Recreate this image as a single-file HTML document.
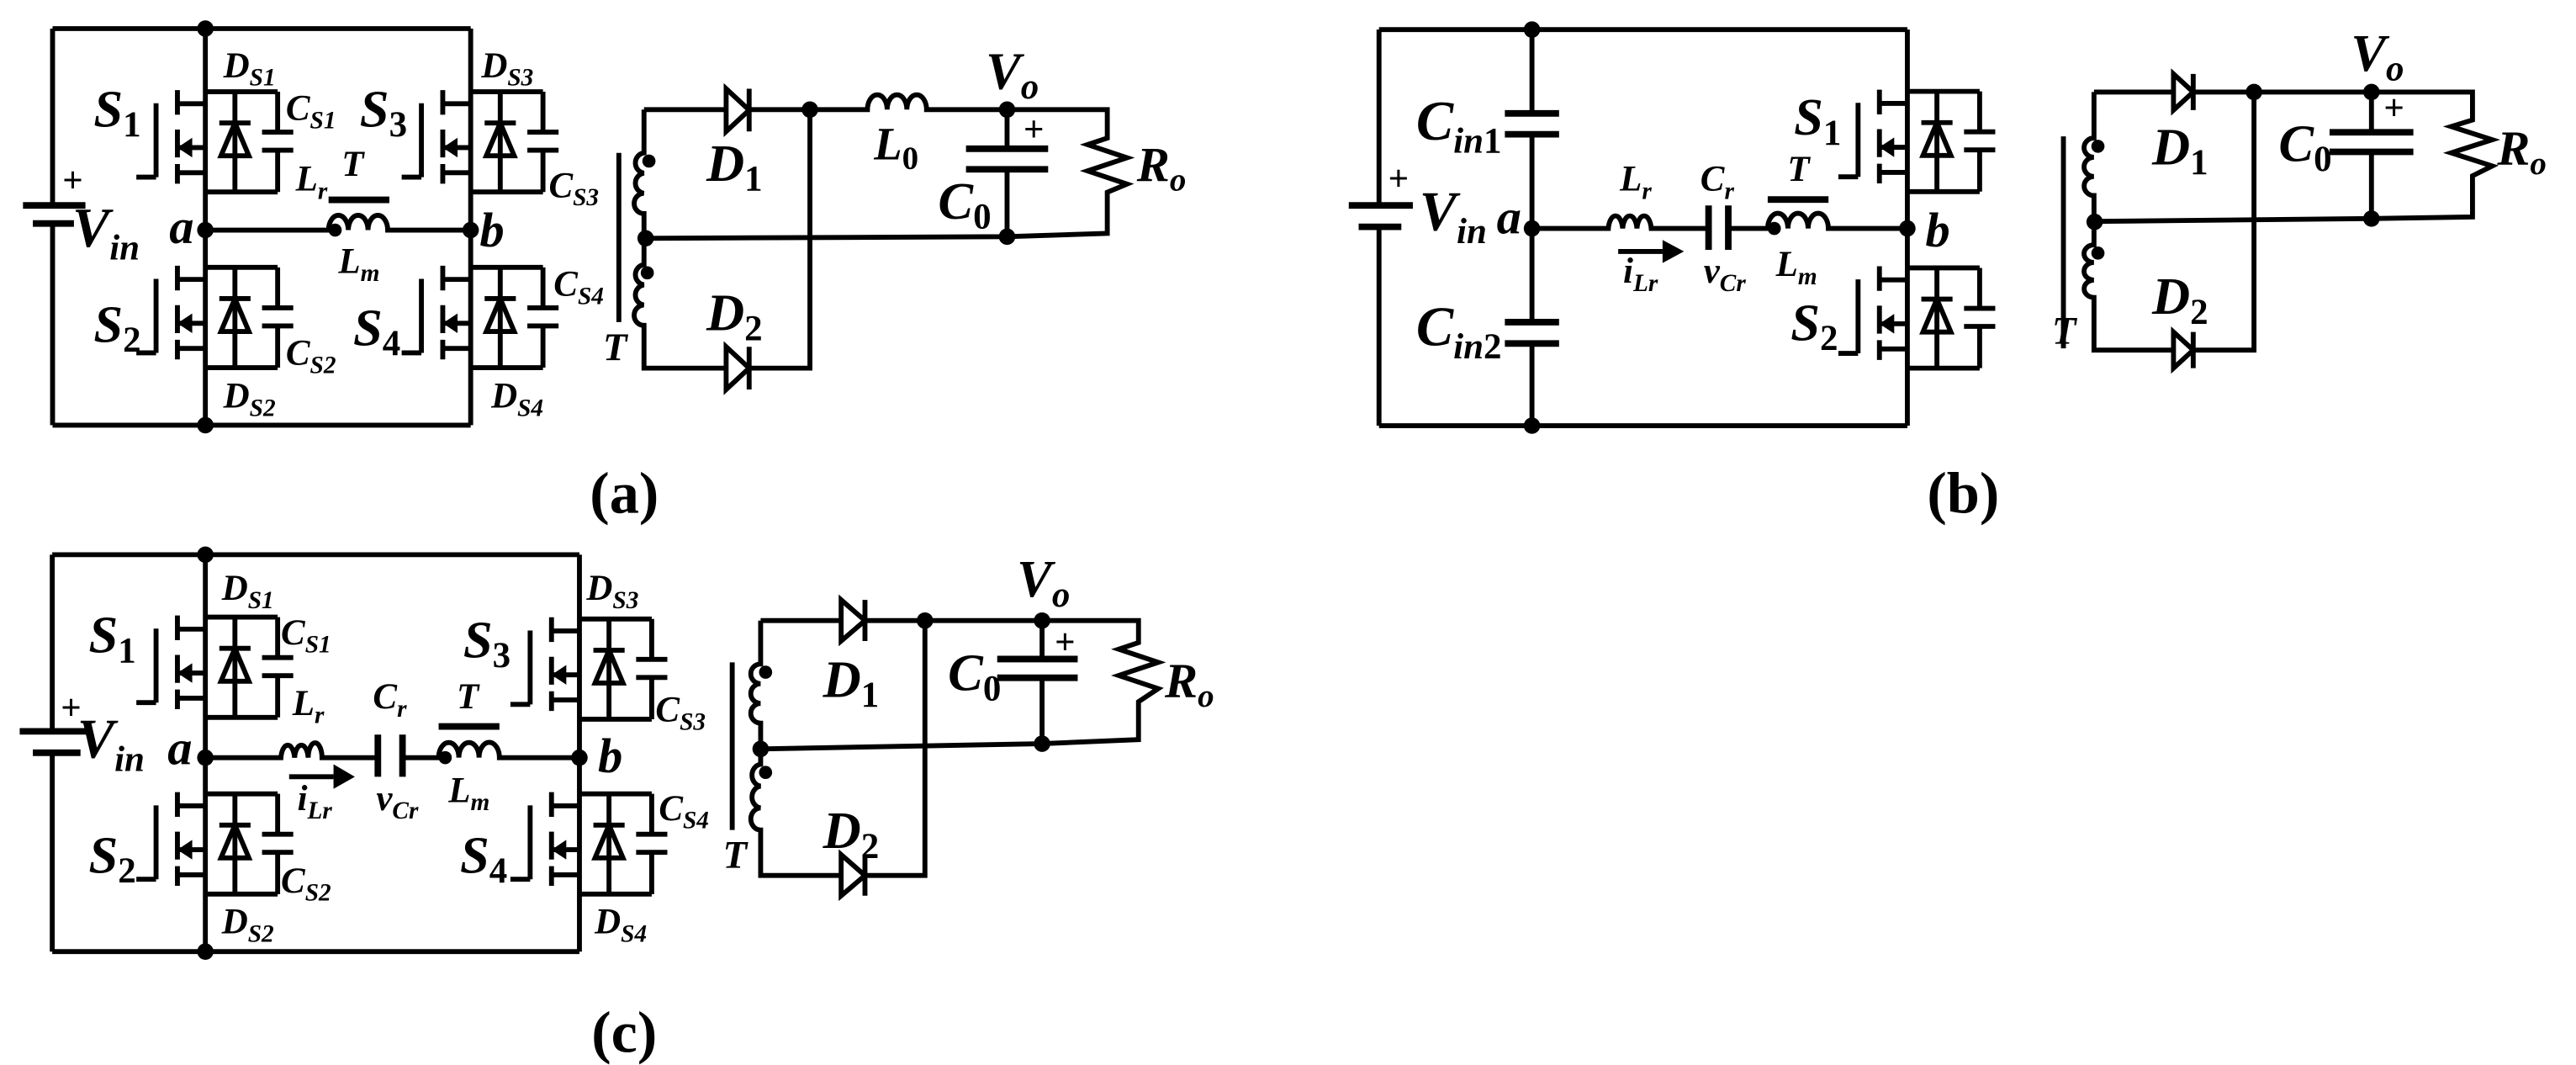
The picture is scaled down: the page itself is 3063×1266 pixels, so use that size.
<!DOCTYPE html>
<html><head><meta charset="utf-8"><style>
html,body{margin:0;padding:0;background:#fff;}
svg{display:block;}
text{font-family:"Liberation Serif",serif;font-weight:bold;font-style:italic;fill:#000;}
.n{font-style:normal;}
</style></head><body>
<svg width="3063" height="1266" viewBox="0 0 1568 648" preserveAspectRatio="none" xmlns="http://www.w3.org/2000/svg">
<defs>
<g id="sw" fill="none" stroke="#000" stroke-width="3">
 <path d="M0,0 H44 M0,61 H44 M18,0 V61 M44,0 V24.6 M44,35.6 V61 M34.5,24.6 H53.5 M34.5,35.6 H53.5 M-17,7.3 H0 M-17,34 H0 M-17,49.3 H0 M-17,-1 V14 M-17,23 V40 M-17,44 V56 M-30,7 V52 M-42,52 H-30 M8.5,19 H27.5"/>
 <polygon points="18,19 9.5,39 26.5,39"/>
 <polygon points="-17,34 -8,28 -8,40" fill="#000" stroke="none"/>
</g>
</defs>
<g fill="none" stroke="#000" stroke-width="3" stroke-linejoin="miter">
<!-- (a) primary -->
<path d="M32,17.4 H286.5 M32,258.7 H286.5 M32,17.4 V125 M32,136 V258.7 M125,17.4 V258.7 M286.5,17.4 V258.7"/>
<path d="M14,125 H52 M20,136 H45" stroke-width="4"/>
<path d="M125,140 H200 a6,9 0 0 1 12,0 a6,9 0 0 1 12,0 a6,9 0 0 1 12,0 H286.5"/>
<path d="M200,121.6 H237" stroke-width="4"/>
<use href="#sw" x="125" y="55.8"/><use href="#sw" x="125" y="162.7"/>
<use href="#sw" x="286.5" y="55.8"/><use href="#sw" x="286.5" y="162.7"/>
<!-- (a) secondary -->
<path d="M392,66.7 H442 M456,66.7 H528 a6,9 0 0 1 12,0 a6,9 0 0 1 12,0 a6,9 0 0 1 12,0 H674 V84 L662,88 L686,96 L662,104 L686,112 L674,117 V142 L613,144 L392,145"/>
<path d="M392,66.7 V93 a6,6.2 0 0 0 0,12.3 a6,6.2 0 0 0 0,12.3 a6,6.2 0 0 0 0,12.4 V161 a6,6.2 0 0 0 0,12.3 a6,6.2 0 0 0 0,12.3 a6,6.2 0 0 0 0,12.4 V224 H442 M456,224 H493 V66.7"/>
<polygon points="442,54 442,80 456,67"/><path d="M456,54 V80"/>
<polygon points="442,211 442,237 456,224"/><path d="M456,211 V237"/>
<path d="M376.7,93 V196"/>
<path d="M613,66.7 V90.5 M613,103 V144"/>
<path d="M588,90.5 H638 M588,103 H638" stroke-width="4"/>
<!-- (b) primary -->
<path d="M839.4,18 H1161 M839.4,259 H1161 M839.4,18 V125 M839.4,138 V259 M1161,18 V259 M932.5,18 V69 M932.5,81.7 V196 M932.5,209 V259"/>
<path d="M821,125 H860 M827,138 H853 M916,69 H949 M916,81.7 H949 M916,196 H949 M916,209 H949" stroke-width="4"/>
<path d="M932.5,139 H979 a4.4,9 0 0 1 8.7,0 a4.4,9 0 0 1 8.7,0 a4.4,9 0 0 1 8.7,0 H1040 M1052,139 H1076 a6,9 0 0 1 12.3,0 a6,9 0 0 1 12.3,0 a6,9 0 0 1 12.3,0 H1161"/>
<path d="M1040,125 V152 M1052,125 V152 M1076,121.4 H1113" stroke-width="4"/>
<path d="M985,153 H1012"/><polygon points="1012,146 1025,153 1012,160" fill="#000" stroke="none"/>
<use href="#sw" x="1161" y="55.6"/><use href="#sw" x="1161" y="163"/>
<!-- (b) secondary -->
<path d="M1274.6,56 H1323 M1335,56 H1505 V73 L1492,77 L1517,85 L1492,93 L1517,101 L1505,107 V132 L1443.5,133 L1274.6,134.7"/>
<path d="M1274.6,56 V84 a6,5.8 0 0 0 0,11.7 a6,5.8 0 0 0 0,11.7 a6,5.8 0 0 0 0,11.6 V149 a6,5.3 0 0 0 0,10.7 a6,5.3 0 0 0 0,10.7 a6,5.3 0 0 0 0,10.6 V213 H1323 M1335,213 H1372 V56"/>
<polygon points="1323,45 1323,67 1335,56"/><path d="M1335,45 V67"/>
<polygon points="1323,202 1323,224 1335,213"/><path d="M1335,202 V224"/>
<path d="M1256,83 V212"/>
<path d="M1443.5,56 V80.5 M1443.5,92.4 V133"/>
<path d="M1418,80.5 H1469 M1418,92.4 H1469" stroke-width="4"/>
<!-- (c) primary -->
<path d="M31.8,337.5 H352.7 M31.8,579 H352.7 M31.8,337.5 V445 M31.8,458 V579 M125,337.5 V579 M352.7,337.5 V579"/>
<path d="M12,445 H54 M20,458 H49" stroke-width="4"/>
<path d="M125,461 H171 a4.2,9 0 0 1 8.3,0 a4.2,9 0 0 1 8.3,0 a4.2,9 0 0 1 8.4,0 H230 M245,461 H267 a6,9 0 0 1 12.3,0 a6,9 0 0 1 12.3,0 a6,9 0 0 1 12.4,0 H352.7"/>
<path d="M230,447 V472.6 M245,447 V472.6 M267,442 H304" stroke-width="4"/>
<path d="M176,472.6 H203"/><polygon points="203,465 216,472.6 203,480" fill="#000" stroke="none"/>
<use href="#sw" x="125" y="375.5"/><use href="#sw" x="125" y="483"/>
<use href="#sw" x="352.7" y="376.6"/><use href="#sw" x="352.7" y="483"/>
<!-- (c) secondary -->
<path d="M463,377.6 H512 M526.5,377.6 H693 V391 L681,395 L705,403 L681,411 L705,419 L693,427 V450 L634,452.5 L463,455.7"/>
<path d="M463,377.6 V404 a6,6 0 0 0 0,12 a6,6 0 0 0 0,12 a6,6 0 0 0 0,12 V465 a6,6.7 0 0 0 0,13.3 a6,6.7 0 0 0 0,13.3 a6,6.7 0 0 0 0,13.4 V532.7 H512 M526.5,532.7 H563 V377.6"/>
<polygon points="512,365 512,390 526.5,377.6"/><path d="M526.5,365 V390"/>
<polygon points="512,520 512,545 526.5,532.7"/><path d="M526.5,520 V545"/>
<path d="M445.7,403 V505"/>
<path d="M634.3,377.6 V401 M634.3,412.4 V452.5"/>
<path d="M607,401 H656 M607,412.4 H656" stroke-width="4"/>
</g>
<g fill="#000">
<circle cx="125" cy="17.4" r="5"/><circle cx="125" cy="258.7" r="5"/><circle cx="125" cy="140" r="5"/><circle cx="286.5" cy="140" r="5"/><circle cx="204" cy="140" r="4"/>
<circle cx="493" cy="66.7" r="5"/><circle cx="613" cy="66.7" r="5"/><circle cx="613" cy="144" r="5"/><circle cx="393" cy="145" r="5"/><circle cx="395" cy="98" r="4"/><circle cx="394" cy="166" r="4"/>
<circle cx="932.5" cy="18" r="5"/><circle cx="932.5" cy="259" r="5"/><circle cx="932.5" cy="139" r="5"/><circle cx="1161" cy="139" r="5"/><circle cx="1080" cy="139" r="4"/>
<circle cx="1372" cy="56" r="5"/><circle cx="1443.5" cy="56" r="5"/><circle cx="1443.5" cy="133" r="5"/><circle cx="1275" cy="135" r="5"/><circle cx="1277" cy="89" r="4"/><circle cx="1277" cy="154" r="4"/>
<circle cx="125" cy="337.5" r="5"/><circle cx="125" cy="579" r="5"/><circle cx="125" cy="461" r="5"/><circle cx="352.7" cy="461" r="5"/><circle cx="271" cy="461" r="4"/>
<circle cx="563" cy="377.6" r="5"/><circle cx="634.3" cy="377.6" r="5"/><circle cx="634.3" cy="452.5" r="5"/><circle cx="463" cy="455.7" r="5"/><circle cx="466" cy="409" r="4"/><circle cx="466" cy="470" r="4"/>
</g>
<!-- labels (a) -->
<text x="57" y="77" font-size="32">S<tspan class="n" font-size="22" dy="6">1</tspan></text>
<text x="57" y="208" font-size="32">S<tspan class="n" font-size="22" dy="6">2</tspan></text>
<text x="219" y="77" font-size="32">S<tspan class="n" font-size="22" dy="6">3</tspan></text>
<text x="215" y="210" font-size="32">S<tspan class="n" font-size="22" dy="6">4</tspan></text>
<text x="136" y="47" font-size="22">D<tspan font-size="15" dy="5">S1</tspan></text>
<text x="136" y="248" font-size="22">D<tspan font-size="15" dy="5">S2</tspan></text>
<text x="293" y="47" font-size="22">D<tspan font-size="15" dy="5">S3</tspan></text>
<text x="299" y="248" font-size="22">D<tspan font-size="15" dy="5">S4</tspan></text>
<text x="174" y="73" font-size="22">C<tspan font-size="15" dy="5">S1</tspan></text>
<text x="174" y="222" font-size="22">C<tspan font-size="15" dy="5">S2</tspan></text>
<text x="334" y="120" font-size="22">C<tspan font-size="15" dy="5">S3</tspan></text>
<text x="337" y="180" font-size="22">C<tspan font-size="15" dy="5">S4</tspan></text>
<text x="44" y="150" font-size="34">V<tspan font-size="22" dy="8">in</tspan></text>
<text x="103" y="148" font-size="30">a</text>
<text x="292" y="150" font-size="30">b</text>
<text x="180" y="116" font-size="22">L<tspan font-size="15" dy="5">r</tspan></text>
<text x="208" y="107" font-size="22">T</text>
<text x="206" y="166" font-size="22">L<tspan font-size="15" dy="5">m</tspan></text>
<text x="367" y="219" font-size="24">T</text>
<text x="430" y="110" font-size="32">D<tspan class="n" font-size="22" dy="6">1</tspan></text>
<text x="430" y="201" font-size="32">D<tspan class="n" font-size="22" dy="6">2</tspan></text>
<text x="532" y="97" font-size="28">L<tspan class="n" font-size="20" dy="6">0</tspan></text>
<text x="571" y="133" font-size="32">C<tspan class="n" font-size="22" dy="6">0</tspan></text>
<text x="600" y="54" font-size="32">V<tspan font-size="22" dy="6">o</tspan></text>
<text x="692" y="110" font-size="30">R<tspan font-size="20" dy="6">o</tspan></text>
<text x="38" y="117" font-size="22" class="n" font-weight="normal">+</text>
<text x="623" y="86" font-size="22" class="n">+</text>
<text x="380" y="312" font-size="36" class="n" text-anchor="middle" font-weight="normal">(<tspan font-weight="bold">a</tspan>)</text>
<!-- labels (b) -->
<text x="862" y="85" font-size="34">C<tspan font-size="22" dy="8">in</tspan><tspan class="n" font-size="22">1</tspan></text>
<text x="862" y="210" font-size="34">C<tspan font-size="22" dy="8">in</tspan><tspan class="n" font-size="22">2</tspan></text>
<text x="864" y="140" font-size="34">V<tspan font-size="22" dy="8">in</tspan></text>
<text x="911" y="142" font-size="30">a</text>
<text x="1172" y="150" font-size="30">b</text>
<text x="986" y="116" font-size="22">L<tspan font-size="15" dy="5">r</tspan></text>
<text x="1035" y="116" font-size="22">C<tspan font-size="15" dy="5">r</tspan></text>
<text x="1088" y="110" font-size="22">T</text>
<text x="1081" y="168" font-size="22">L<tspan font-size="15" dy="5">m</tspan></text>
<text x="988" y="172" font-size="22">i<tspan font-size="15" dy="5">Lr</tspan></text>
<text x="1037" y="172" font-size="22">v<tspan font-size="15" dy="5">Cr</tspan></text>
<text x="1092" y="82" font-size="32">S<tspan class="n" font-size="22" dy="6">1</tspan></text>
<text x="1090" y="207" font-size="32">S<tspan class="n" font-size="22" dy="6">2</tspan></text>
<text x="1310" y="100" font-size="32">D<tspan class="n" font-size="22" dy="6">1</tspan></text>
<text x="1310" y="191" font-size="32">D<tspan class="n" font-size="22" dy="6">2</tspan></text>
<text x="1249" y="209" font-size="24">T</text>
<text x="1387" y="98" font-size="32">C<tspan class="n" font-size="22" dy="6">0</tspan></text>
<text x="1431" y="43" font-size="32">V<tspan font-size="22" dy="6">o</tspan></text>
<text x="1520" y="100" font-size="30">R<tspan font-size="20" dy="6">o</tspan></text>
<text x="845" y="116" font-size="22" class="n" font-weight="normal">+</text>
<text x="1451" y="73" font-size="22" class="n">+</text>
<text x="1195" y="312" font-size="36" class="n" text-anchor="middle" font-weight="normal">(<tspan font-weight="bold">b</tspan>)</text>
<!-- labels (c) -->
<text x="54" y="397" font-size="32">S<tspan class="n" font-size="22" dy="6">1</tspan></text>
<text x="54" y="531" font-size="32">S<tspan class="n" font-size="22" dy="6">2</tspan></text>
<text x="282" y="400" font-size="32">S<tspan class="n" font-size="22" dy="6">3</tspan></text>
<text x="280" y="531" font-size="32">S<tspan class="n" font-size="22" dy="6">4</tspan></text>
<text x="135" y="365" font-size="22">D<tspan font-size="15" dy="5">S1</tspan></text>
<text x="135" y="568" font-size="22">D<tspan font-size="15" dy="5">S2</tspan></text>
<text x="357" y="365" font-size="22">D<tspan font-size="15" dy="5">S3</tspan></text>
<text x="362" y="568" font-size="22">D<tspan font-size="15" dy="5">S4</tspan></text>
<text x="171" y="392" font-size="22">C<tspan font-size="15" dy="5">S1</tspan></text>
<text x="171" y="543" font-size="22">C<tspan font-size="15" dy="5">S2</tspan></text>
<text x="399" y="439" font-size="22">C<tspan font-size="15" dy="5">S3</tspan></text>
<text x="401" y="499" font-size="22">C<tspan font-size="15" dy="5">S4</tspan></text>
<text x="47" y="461" font-size="34">V<tspan font-size="22" dy="8">in</tspan></text>
<text x="102" y="465" font-size="30">a</text>
<text x="364" y="470" font-size="30">b</text>
<text x="178" y="435" font-size="22">L<tspan font-size="15" dy="5">r</tspan></text>
<text x="227" y="431" font-size="22">C<tspan font-size="15" dy="5">r</tspan></text>
<text x="278" y="431" font-size="22">T</text>
<text x="273" y="488" font-size="22">L<tspan font-size="15" dy="5">m</tspan></text>
<text x="181" y="493" font-size="22">i<tspan font-size="15" dy="5">Lr</tspan></text>
<text x="229" y="493" font-size="22">v<tspan font-size="15" dy="5">Cr</tspan></text>
<text x="440" y="528" font-size="24">T</text>
<text x="501" y="424" font-size="32">D<tspan class="n" font-size="22" dy="6">1</tspan></text>
<text x="501" y="516" font-size="32">D<tspan class="n" font-size="22" dy="6">2</tspan></text>
<text x="577" y="420" font-size="32">C<tspan class="n" font-size="22" dy="6">0</tspan></text>
<text x="619" y="363" font-size="32">V<tspan font-size="22" dy="6">o</tspan></text>
<text x="709" y="424" font-size="30">R<tspan font-size="20" dy="6">o</tspan></text>
<text x="37" y="438" font-size="22" class="n" font-weight="normal">+</text>
<text x="642" y="398" font-size="22" class="n">+</text>
<text x="380" y="640" font-size="36" class="n" text-anchor="middle" font-weight="normal">(<tspan font-weight="bold">c</tspan>)</text>
</svg>
</body></html>
